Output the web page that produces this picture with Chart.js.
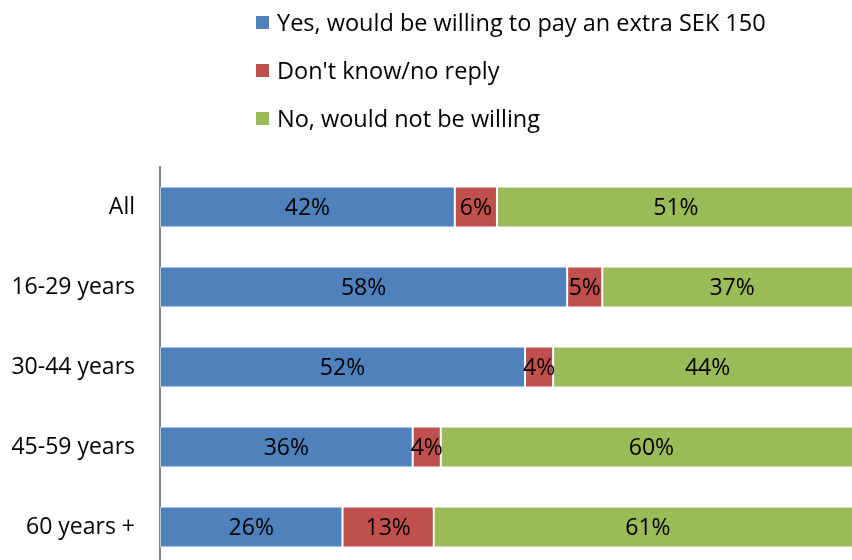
<!DOCTYPE html>
<html>
<head>
<meta charset="utf-8">
<script src="https://cdn.jsdelivr.net/npm/chart.js@4/dist/chart.umd.min.js"></script>
<style>
  html, body { margin: 0; padding: 0; background: #fff; }
  #wrap { position: relative; width: 852px; height: 560px; overflow: hidden; }
  #surveyChart { position: absolute; left: 0; top: 0; }
  #legend { position: absolute; left: 256px; top: 0; font-family: "Open Sans", sans-serif; font-size: 23.5px; color: #000; }
  #legend div { position: absolute; white-space: nowrap; display: flex; align-items: center; height: 30px; }
  #legend span.sw { display: inline-block; width: 13px; height: 13px; margin-right: 8px; }
</style>
</head>
<body>
<div id="wrap">
  <canvas id="surveyChart" width="880" height="607"></canvas>
  <div id="legend"></div>
</div>
<script>
const ageGroups = ["All", "16-29 years", "30-44 years", "45-59 years", "60 years +"];
const yesValues = [42, 58, 52, 36, 26];
const dontKnowValues = [6, 5, 4, 4, 13];
const noValues = [51, 37, 44, 60, 61];

const seriesLabels = [
  "Yes, would be willing to pay an extra SEK 150",
  "Don't know/no reply",
  "No, would not be willing",
];
const seriesColors = ["#4F81BD", "#C0504D", "#9BBB59"];

// writes the percentage in the middle of each bar segment
const segmentLabels = {
  id: "segmentLabels",
  afterDatasetsDraw(chart) {
    const ctx = chart.ctx;
    ctx.save();
    ctx.font = "23px 'Open Sans', sans-serif";
    ctx.fillStyle = "#000";
    ctx.textAlign = "center";
    ctx.textBaseline = "middle";
    chart.data.datasets.forEach((dataset, i) => {
      chart.getDatasetMeta(i).data.forEach((bar, j) => {
        const pos = bar.getCenterPoint();
        ctx.fillText(dataset.data[j] + "%", pos.x, pos.y + 1);
      });
    });
    ctx.restore();
  },
};

const surveyChart = new Chart(document.getElementById("surveyChart"), {
  type: "bar",
  data: {
    labels: ageGroups,
    datasets: [
      { label: seriesLabels[0], data: yesValues, backgroundColor: seriesColors[0] },
      { label: seriesLabels[1], data: dontKnowValues, backgroundColor: seriesColors[1] },
      { label: seriesLabels[2], data: noValues, backgroundColor: seriesColors[2] },
    ],
  },
  options: {
    indexAxis: "y",
    responsive: false,
    animation: false,
    // the tick padding also reserves room under the last label, so bottom is 40
    layout: { padding: { top: 167, right: 18, bottom: 40, left: 0 } },
    datasets: {
      bar: {
        categoryPercentage: 1,
        barPercentage: 0.51,
        borderWidth: 1,
        borderColor: "rgba(255,255,255,0.5)",
        borderSkipped: false,
      },
    },
    plugins: {
      legend: { display: false },
      tooltip: { enabled: false },
    },
    scales: {
      x: {
        stacked: true,
        min: 0,
        max: 100,
        display: false,
      },
      y: {
        stacked: true,
        grid: { display: false, drawTicks: false },
        border: { display: true, color: "#868686", width: 2 },
        ticks: {
          color: "#000",
          padding: 25,
          font: { family: "'Open Sans', sans-serif", size: 23 },
        },
        afterFit(scale) {
          scale.width = 160;
        },
      },
    },
  },
  plugins: [segmentLabels],
});

// legend as a vertical list built from the datasets
const legendEl = document.getElementById("legend");
surveyChart.data.datasets.forEach((dataset, i) => {
  const item = document.createElement("div");
  item.style.top = 7 + i * 48 + "px";
  const swatch = document.createElement("span");
  swatch.className = "sw";
  swatch.style.background = dataset.backgroundColor;
  item.appendChild(swatch);
  item.appendChild(document.createTextNode(dataset.label));
  legendEl.appendChild(item);
});
</script>
</body>
</html>
